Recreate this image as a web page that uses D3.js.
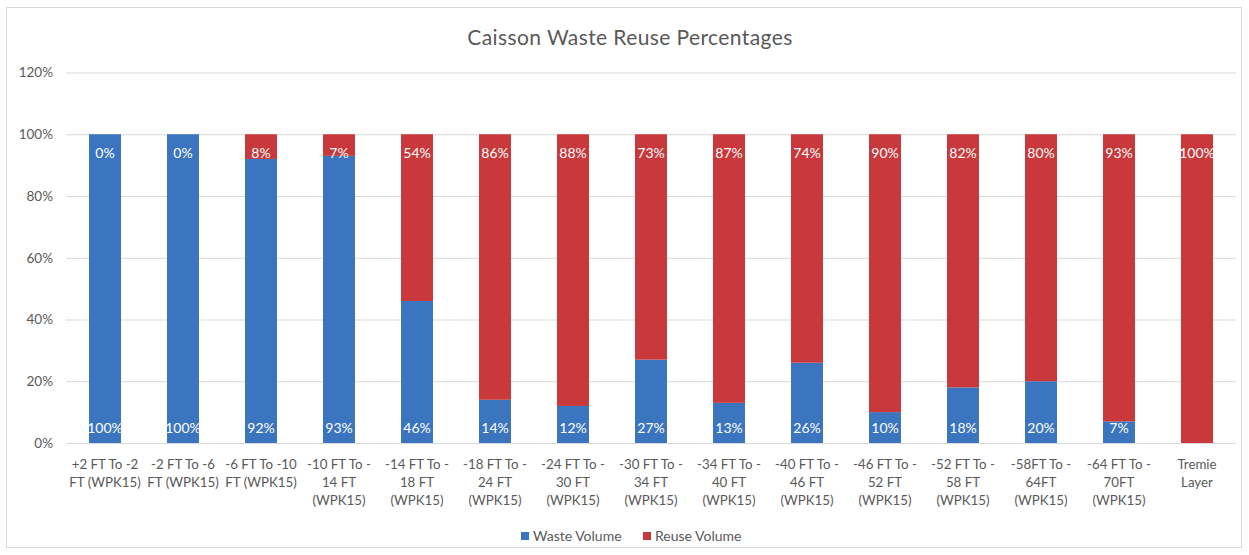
<!DOCTYPE html>
<html><head><meta charset="utf-8">
<script src="https://cdn.jsdelivr.net/npm/d3@7"></script>
<style>body{margin:0;background:#fff}svg{display:block}</style>
</head><body><svg id="c" width="1249" height="555"></svg>
<script>
const categories = [
  ["+2 FT To -2", "FT (WPK15)"],
  ["-2 FT To -6", "FT (WPK15)"],
  ["-6 FT To -10", "FT (WPK15)"],
  ["-10 FT To -", "14 FT", "(WPK15)"],
  ["-14 FT To -", "18 FT", "(WPK15)"],
  ["-18 FT To -", "24 FT", "(WPK15)"],
  ["-24 FT To -", "30 FT", "(WPK15)"],
  ["-30 FT To -", "34 FT", "(WPK15)"],
  ["-34 FT To -", "40 FT", "(WPK15)"],
  ["-40 FT To -", "46 FT", "(WPK15)"],
  ["-46 FT To -", "52 FT", "(WPK15)"],
  ["-52 FT To -", "58 FT", "(WPK15)"],
  ["-58FT To -", "64FT", "(WPK15)"],
  ["-64 FT To -", "70FT", "(WPK15)"],
  ["Tremie", "Layer"]
];
const wasteVolume = [100, 100, 92, 93, 46, 14, 12, 27, 13, 26, 10, 18, 20, 7, null];
const reuseVolume = [0, 0, 8, 7, 54, 86, 88, 73, 87, 74, 90, 82, 80, 93, 100];
const yTicks = [0, 20, 40, 60, 80, 100, 120];
const seriesNames = ["Waste Volume", "Reuse Volume"];
const colors = ["#3b75c0", "#c9383a"];

(function () {
const svg = d3.select("#c");
const font = "Lato, 'Open Sans', sans-serif";
const textCol = "#595959";

svg.append("rect").attr("x", 6.5).attr("y", 7.5).attr("width", 1235).attr("height", 540)
  .attr("fill", "#fff").attr("stroke", "#d9d9d9");

const pL = 66, pR = 1236, pT = 72.5, pB = 443;
const x = d3.scaleBand().domain(d3.range(categories.length)).range([pL, pR]).paddingInner(0.59).paddingOuter(0.295);
const y = d3.scaleLinear().domain([0, 120]).range([pB, pT]);

svg.append("text").attr("x", 630).attr("y", 45).attr("text-anchor", "middle")
  .attr("font-family", font).attr("font-size", 21).attr("fill", textCol)
  .attr("letter-spacing", 0.4).text("Caisson Waste Reuse Percentages");

const yAxis = d3.axisLeft(y).tickValues(yTicks).tickFormat(d => d + "%").tickSize(-(pR - pL)).tickPadding(13);
const gy = svg.append("g").attr("transform", `translate(${pL},0)`).call(yAxis);
gy.select(".domain").remove();
gy.selectAll(".tick line").attr("stroke", "#d9d9d9").attr("stroke-width", 1.2);
gy.selectAll(".tick text").attr("font-family", font).attr("font-size", 13.5).attr("fill", textCol);

const stackData = categories.map((c, i) => ({i, waste: wasteVolume[i] || 0, reuse: reuseVolume[i] || 0}));
const stack = d3.stack().keys(["waste", "reuse"])(stackData);
stack.forEach((layer, k) => {
  svg.append("g").selectAll("rect").data(layer).join("rect")
    .attr("x", d => x(d.data.i)).attr("width", x.bandwidth())
    .attr("y", d => y(d[1])).attr("height", d => y(d[0]) - y(d[1]))
    .attr("fill", colors[k]);
});

const lbl = svg.append("g").attr("font-family", font).attr("font-size", 14).attr("fill", "#fff").attr("text-anchor", "middle");
wasteVolume.forEach((v, i) => {
  if (v == null) return;
  lbl.append("text").attr("x", x(i) + x.bandwidth() / 2).attr("y", y(0) - 10).text(v + "%");
});
reuseVolume.forEach((v, i) => {
  if (v == null) return;
  lbl.append("text").attr("x", x(i) + x.bandwidth() / 2).attr("y", y(100) + 24).text(v + "%");
});

const cg = svg.append("g").attr("font-family", font).attr("font-size", 13.3).attr("fill", textCol).attr("text-anchor", "middle");
categories.forEach((lines, i) => {
  const t = cg.append("text").attr("x", x(i) + x.bandwidth() / 2).attr("y", 469);
  lines.forEach((l, j) => t.append("tspan").attr("x", x(i) + x.bandwidth() / 2).attr("dy", j ? 18 : 0).text(l));
});

const lg = svg.append("g").attr("font-family", font).attr("font-size", 14).attr("fill", textCol);
const legX = [521, 643];
seriesNames.forEach((n, k) => {
  lg.append("rect").attr("x", legX[k]).attr("y", 532).attr("width", 8).attr("height", 8).attr("fill", colors[k]);
  lg.append("text").attr("x", legX[k] + 12).attr("y", 541).text(n);
});
})();
</script>
</body></html>
